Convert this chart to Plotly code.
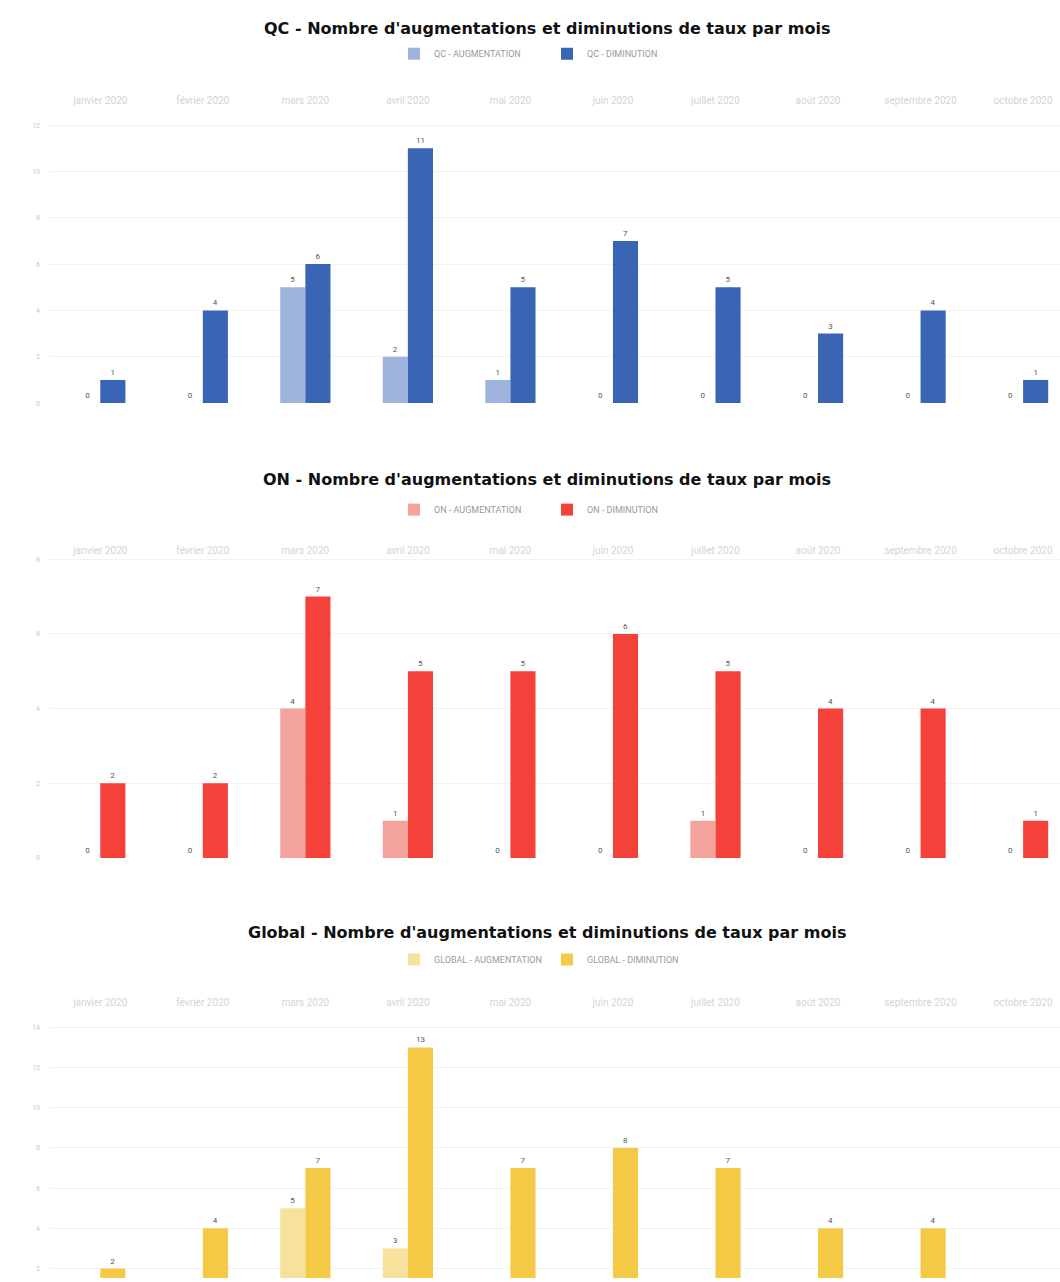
import plotly.graph_objects as go

months = ["janvier 2020", "février 2020", "mars 2020", "avril 2020", "mai 2020",
          "juin 2020", "juillet 2020", "août 2020", "septembre 2020", "octobre 2020"]

qc_aug = [0, 0, 5, 2, 1, 0, 0, 0, 0, 0]
qc_dim = [1, 4, 6, 11, 5, 7, 5, 3, 4, 1]
on_aug = [0, 0, 4, 1, 0, 0, 1, 0, 0, 0]
on_dim = [2, 2, 7, 5, 5, 6, 5, 4, 4, 1]
gl_aug = [0, 0, 5, 3, 1, 0, 1, 0, 0, 0]
gl_dim = [2, 4, 7, 13, 7, 8, 7, 4, 4, 1]

titles = ["QC - Nombre d'augmentations et diminutions de taux par mois",
          "ON - Nombre d'augmentations et diminutions de taux par mois",
          "Global - Nombre d'augmentations et diminutions de taux par mois"]
names = [("QC - AUGMENTATION", "QC - DIMINUTION"),
         ("ON - AUGMENTATION", "ON - DIMINUTION"),
         ("GLOBAL - AUGMENTATION", "GLOBAL - DIMINUTION")]
colors = [("#9fb4dc", "#3a65b4"), ("#f3a29c", "#f4423b"), ("#f6e29c", "#f4c945")]
data = [(qc_aug, qc_dim), (on_aug, on_dim), (gl_aug, gl_dim)]

H = 1282.0
W = 1060.0
def py(px):
    return 1 - px / H

CX = 547 / W

# pixel layout: (domain top px, domain bottom px, y range, tick step, title px, legend px)
panels = [
    (105, 403, [0, 12.8], 2, 27, 52),
    (558, 860, [0, 8.05], 2, 480, 510),
    (1012, 1282, [1.53, 14.9], 2, 935, 962),
]

fig = go.Figure()
annotations = []
for i, (top, bot, yr, step, tpx, lpx) in enumerate(panels):
    k = "" if i == 0 else str(i + 1)
    aug, dim = data[i]
    for vals, nm, col in [(aug, names[i][0], colors[i][0]), (dim, names[i][1], colors[i][1])]:
        fig.add_trace(go.Bar(
            x=months, y=vals, name=nm, marker=dict(color=col, line=dict(width=0)),
            text=[str(v) for v in vals], textposition="outside",
            textfont=dict(size=8, color="#555555", family="Roboto"),
            xaxis="x" + k, yaxis="y" + k, legend="legend" + k,
            cliponaxis=False if i < 2 else True,
        ))
    fig.update_layout(**{
        "xaxis" + k: dict(
            domain=[49 / W, 1.0], anchor="y" + k, side="top", type="category",
            range=[-0.5, 9.36], showgrid=False, showline=False, zeroline=False,
            ticks="", tickfont=dict(size=10, color="#d4d4d4", family="Roboto"),
        ),
        "yaxis" + k: dict(
            domain=[py(bot), py(top)], anchor="x" + k, range=yr, dtick=step,
            showgrid=True, gridcolor="#f3f3f3", gridwidth=1, zeroline=False,
            showline=False, ticks="", ticklabelstandoff=8,
            tickfont=dict(size=7, color="#c8c8c8", family="Roboto"),
        ),
        "legend" + k: dict(
            orientation="h", x=CX, xanchor="center", y=py(lpx), yanchor="middle",
            font=dict(size=9, color="#9a9a9a", family="Roboto"),
            itemwidth=30, bgcolor="rgba(0,0,0,0)",
            entrywidthmode="pixels", entrywidth=108,
        ),
    })
    annotations.append(dict(
        text="<b>" + titles[i] + "</b>", x=CX, xref="paper", y=py(tpx), yref="paper",
        xanchor="center", yanchor="middle", showarrow=False,
        font=dict(size=16, color="#111111", family="DejaVu Sans"),
    ))

fig.update_layout(
    width=1060, height=1282, margin=dict(l=0, r=0, t=0, b=0),
    paper_bgcolor="white", plot_bgcolor="white",
    barmode="group", bargap=0.51, bargroupgap=0,
    annotations=annotations,
)

fig.write_html("out.html")
